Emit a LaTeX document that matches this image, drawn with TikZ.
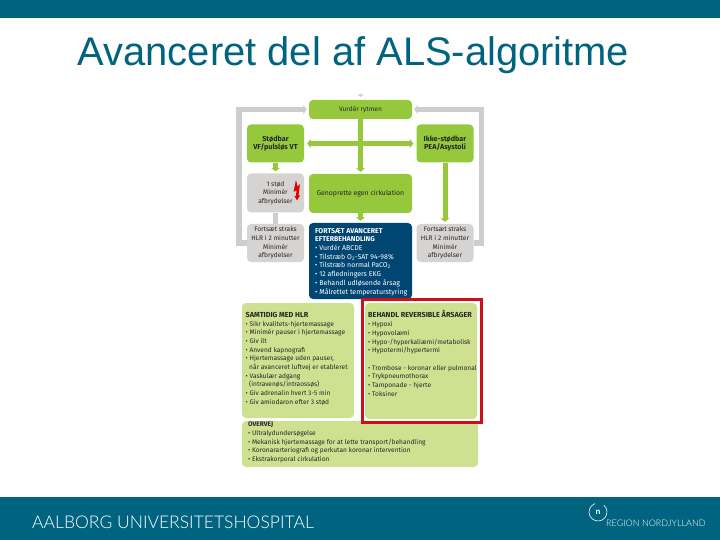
\documentclass[tikz,border=0pt]{standalone}
\usepackage{fontspec}
\setmainfont{Liberation Sans}
\newfontfamily\boxfont{Fira Sans}
\newfontfamily\footfont{Lato Light}
\usetikzlibrary{arrows.meta,calc,positioning}
\definecolor{teal}{RGB}{0,100,128}
\definecolor{okgreen}{RGB}{150,200,60}
\definecolor{palegreen}{RGB}{205,225,145}
\definecolor{boxgrey}{RGB}{214,212,210}
\definecolor{loopgrey}{RGB}{205,205,205}
\definecolor{darkblue}{RGB}{0,70,115}
\definecolor{redframe}{RGB}{205,15,25}
\newcommand{\headfont}{\bfseries\fontsize{7.3}{8.7}\selectfont}
\tikzset{
  box/.style={rounded corners=4pt,inner sep=0pt,font=\boxfont\fontsize{6.6}{8.7}\selectfont,align=center,text=black!85},
  green box/.style={box,fill=okgreen},
  grey box/.style={box,fill=boxgrey},
  pale box/.style={box,fill=palegreen},
  blue box/.style={box,fill=darkblue},
  shock text/.style={font=\boxfont\bfseries\fontsize{7.2}{8.7}\selectfont},
  list text/.style={inner sep=0pt,anchor=north west,align=left,font=\boxfont\fontsize{6.6}{8.7}\selectfont,text=black!85},
  green arrow/.style={line width=5pt,okgreen,shorten >=2pt,-{Triangle[length=3.5pt,width=9pt]}},
  grey arrow/.style={line width=5.5pt,loopgrey,shorten >=2pt,-{Triangle[length=3.5pt,width=9pt]}},
}
\begin{document}
\begin{tikzpicture}[x=1pt,y=-1pt]
\useasboundingbox (0,0) rectangle (720,540);
\fill[white] (0,0) rectangle (720,540);
% bars
\fill[teal] (0,0) rectangle (720,18);
\fill[teal] (0,497) rectangle (720,540);
\node (title) at (353.5,55.5) {\fontsize{39.9}{42}\selectfont\color{teal}Avanceret del af ALS-algoritme};
% upper boxes
\node[green box,minimum width=103pt,minimum height=19pt] (rytme) at (360.5,109.5) {Vurdér rytmen};
\node[green box,shock text,minimum width=57pt,minimum height=38pt] (stod) at (275.5,143.5) {Stødbar\\VF/pulsløs VT};
\node[green box,shock text,minimum width=57pt,minimum height=38pt] (ikke) at (445,143.5) {Ikke-stødbar\\PEA/Asystoli};
\node[grey box,minimum width=57pt,minimum height=39pt] (stoed) at (275.5,193) {1 stød\\Minimér\\afbrydelser};
\node[green box,minimum width=103pt,minimum height=39pt,font=\boxfont\fontsize{6.9}{8.7}\selectfont] (egen) at (360.5,193.5) {Genoprette egen cirkulation};
\node[grey box,minimum width=57pt,minimum height=38pt] (hlrL) at (275.5,243) {Fortsæt straks\\HLR i 2 minutter\\Minimér\\afbrydelser};
\node[grey box,minimum width=57pt,minimum height=38pt] (hlrR) at (445,243) {Fortsæt straks\\HLR i 2 minutter\\Minimér\\afbrydelser};
\node[blue box,minimum width=103pt,minimum height=76pt] (efter) at (360.5,261) {};
\node[list text,text=white,font=\boxfont\fontsize{7}{8.7}\selectfont] (eftertxt) at (315,228) {\textbf{FORTSÆT AVANCERET}\\\textbf{EFTERBEHANDLING}\\• Vurdér ABCDE\\• Tilstræb O\textsubscript{2}-SAT 94-98\%\\• Tilstræb normal PaCO\textsubscript{2}\\• 12 afledningers EKG\\• Behandl udløsende årsag\\• Målrettet temperaturstyring};
% lower boxes
\node[pale box,minimum width=112pt,minimum height=115pt] (samtidig) at (298,360.5) {};
\node[pale box,minimum width=112pt,minimum height=116pt] (aarsager) at (421,361) {};
\node[pale box,minimum width=236pt,minimum height=46pt] (overvej) at (360,444) {};
\node[draw=redframe,line width=3pt,minimum width=119pt,minimum height=123pt,inner sep=0pt] (frame) at (422,361) {};
\node[list text] (samtidigtxt) at (245.5,312) {{\headfont SAMTIDIG MED HLR}\\• Sikr kvalitets-hjertemassage\\• Minimér pauser i hjertemassage\\• Giv ilt\\• Anvend kapnografi\\• Hjertemassage uden pauser,\\\ \ når avanceret luftvej er etableret\\• Vaskulær adgang\\\ \ (intravenøs/intraossøs)\\• Giv adrenalin hvert 3-5 min\\• Giv amiodaron efter 3 stød};
\node[list text] (aarsagertxt) at (368,310.5) {{\headfont BEHANDL REVERSIBLE ÅRSAGER}\\• Hypoxi\\• Hypovolæmi\\• Hypo-/hyperkaliæmi/metabolisk\\• Hypotermi/hypertermi\\[8.7pt]• Trombose - koronar eller pulmonal\\• Trykpneumothorax\\• Tamponade - hjerte\\• Toksiner};
\node[list text] (overvejtxt) at (248,422) {\textbf{OVERVEJ}\\• Ultralydundersøgelse\\• Mekanisk hjertemassage for at lette transport/behandling\\• Koronararteriografi og perkutan koronar intervention\\• Ekstrakorporal cirkulation};
% connectors
\coordinate (start) at (360.5,94);
\draw[loopgrey,line width=3pt,shorten >=3pt,-{Triangle[length=2pt,width=6pt]}] (start) -- (rytme.north);
\draw[green arrow] (rytme) -- (egen);
\draw[green arrow,shorten <=3pt,shorten >=3pt,{Triangle[length=3.5pt,width=9pt]}-{Triangle[length=3.5pt,width=9pt]}] (stod) -- (ikke);
\draw[green arrow] (stod) -- (stoed);
\draw[grey arrow,-,shorten >=0pt] (stoed) -- (hlrL);
\draw[green arrow] (egen) -- (efter.north);
\draw[green arrow] (ikke) -- (hlrR);
\draw[grey arrow] (hlrL.west) -- ++(-8,0) |- (rytme.west);
\draw[grey arrow] (hlrR.east) -- ++(8,0) |- (rytme.east);
% bolt
\fill[red!90!black] (296,180) -- (293.5,192) -- (296.5,190) -- (296,196) -- (294.5,196) -- (297,200.5) -- (300,195.5) -- (298.5,195.5) -- (300,184) -- (297.5,186.5) -- cycle;
% footer
\node[anchor=west,inner sep=0pt,white] (hospital) at (32,522) {\footfont\fontsize{17.5}{20}\selectfont AALBORG UNIVERSITETSHOSPITAL};
\node[inner sep=0pt,white] (logo) at (598,512) {\fontsize{8}{8}\selectfont\bfseries n};
\draw[white,line width=.6pt] (logo) ++(-50:9) arc (-50:250:9);
\node[anchor=west,inner sep=0pt,white] (region) at (606,523) {\footfont\fontsize{9}{9}\selectfont REGION NORDJYLLAND};
\end{tikzpicture}
\end{document}
